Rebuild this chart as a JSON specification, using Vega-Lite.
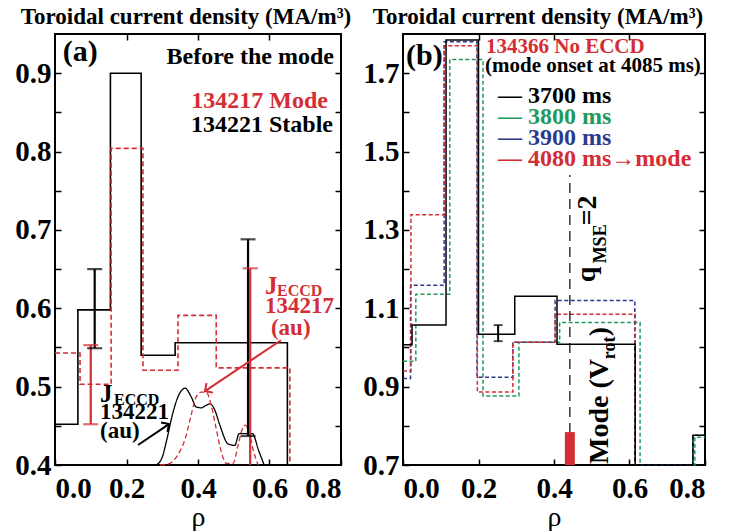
{
  "$schema": "https://vega.github.io/schema/vega-lite/v6.json",
  "background": "white",
  "padding": {"left": 13, "top": 5, "right": 5, "bottom": 5},
  "config": {
    "font": "'Liberation Serif', 'Times New Roman', 'DejaVu Serif', serif",
    "view": {"stroke": "black", "strokeWidth": 2},
    "text": {"font": "'Liberation Serif', 'Times New Roman', 'DejaVu Serif', serif"},
    "title": {"font": "'Liberation Serif', 'Times New Roman', 'DejaVu Serif', serif"},
    "axis": {
      "domain": false, "grid": false,
      "labelFont": "'Liberation Serif', 'Times New Roman', 'DejaVu Serif', serif", "labelFontWeight": "bold", "labelFontSize": 29, "labelColor": "black",
      "labelOverlap": false,
      "tickColor": "black", "tickSize": -6, "tickWidth": 1.5,
      "titleFont": "'Liberation Serif', 'Times New Roman', 'DejaVu Serif', serif", "titleFontWeight": "normal", "titleFontSize": 28, "titleColor": "black"
    }
  },
  "spacing": 62,
  "bounds": "flush",
  "resolve": {"scale": {"color": "independent", "strokeDash": "independent"}},
  "hconcat": [
    {
      "width": 286, "height": 431,
      "title": {"text": "Toroidal current density (MA/m³)", "fontSize": 23, "fontWeight": "bold", "color": "black", "dx": -12, "offset": 4},
      "encoding": {
        "x": {"field": "rho", "type": "quantitative", "scale": {"domain": [0, 0.8], "nice": false, "zero": false}, "axis": null},
        "y": {"field": "v", "type": "quantitative", "scale": {"domain": [0.4, 0.95], "nice": false, "zero": false}, "axis": null}
      },
      "resolve": {"axis": {"x": "independent", "y": "independent"}},
      "layer": [
        {
          "data": {"values": [
            {"s": "134221", "rho": 0, "v": 0.452}, {"s": "134221", "rho": 0.064, "v": 0.598}, {"s": "134221", "rho": 0.155, "v": 0.9},
            {"s": "134221", "rho": 0.241, "v": 0.54}, {"s": "134221", "rho": 0.336, "v": 0.556}, {"s": "134221", "rho": 0.65, "v": 0.4},
            {"s": "134217", "rho": 0, "v": 0.543}, {"s": "134217", "rho": 0.07, "v": 0.503}, {"s": "134217", "rho": 0.157, "v": 0.804},
            {"s": "134217", "rho": 0.246, "v": 0.521}, {"s": "134217", "rho": 0.344, "v": 0.591}, {"s": "134217", "rho": 0.451, "v": 0.524},
            {"s": "134217", "rho": 0.657, "v": 0.4}
          ]},
          "mark": {"type": "line", "interpolate": "step-after", "strokeWidth": 1.6},
          "encoding": {
            "x": {"field": "rho", "type": "quantitative", "scale": {"domain": [0, 0.8], "nice": false, "zero": false},
              "axis": {"orient": "bottom", "values": [0, 0.2, 0.4, 0.6, 0.8], "format": ".1f", "title": "ρ", "labelPadding": 15, "titlePadding": 0}},
            "y": {"field": "v", "type": "quantitative", "scale": {"domain": [0.4, 0.95], "nice": false, "zero": false},
              "axis": {"orient": "left", "values": [0.4, 0.45, 0.5, 0.55, 0.6, 0.65, 0.7, 0.75, 0.8, 0.85, 0.9], "labelExpr": "round(datum.value*100) % 10 == 0 ? format(datum.value, '.1f') : ''", "title": null, "labelPadding": 10}},
            "color": {"field": "s", "type": "nominal", "scale": {"domain": ["134221", "134217"], "range": ["black", "#d42d35"]}, "legend": null},
            "strokeDash": {"field": "s", "type": "nominal", "scale": {"domain": ["134221", "134217"], "range": [[1, 0], [5, 3]]}, "legend": null}
          }
        },
        {
          "data": {"values": [
            {"s": "134221", "rho": 0.283, "v": 0.4}, {"s": "134221", "rho": 0.3, "v": 0.41}, {"s": "134221", "rho": 0.311, "v": 0.429},
            {"s": "134221", "rho": 0.33, "v": 0.467}, {"s": "134221", "rho": 0.344, "v": 0.487}, {"s": "134221", "rho": 0.364, "v": 0.498},
            {"s": "134221", "rho": 0.381, "v": 0.487}, {"s": "134221", "rho": 0.395, "v": 0.474}, {"s": "134221", "rho": 0.41, "v": 0.473},
            {"s": "134221", "rho": 0.422, "v": 0.476}, {"s": "134221", "rho": 0.434, "v": 0.478}, {"s": "134221", "rho": 0.447, "v": 0.47},
            {"s": "134221", "rho": 0.461, "v": 0.451}, {"s": "134221", "rho": 0.484, "v": 0.427}, {"s": "134221", "rho": 0.503, "v": 0.425},
            {"s": "134221", "rho": 0.515, "v": 0.44}, {"s": "134221", "rho": 0.552, "v": 0.44}, {"s": "134221", "rho": 0.57, "v": 0.418},
            {"s": "134221", "rho": 0.585, "v": 0.4},
            {"s": "134217", "rho": 0.294, "v": 0.4}, {"s": "134217", "rho": 0.315, "v": 0.401}, {"s": "134217", "rho": 0.33, "v": 0.405},
            {"s": "134217", "rho": 0.35, "v": 0.418}, {"s": "134217", "rho": 0.364, "v": 0.433}, {"s": "134217", "rho": 0.381, "v": 0.464},
            {"s": "134217", "rho": 0.395, "v": 0.487}, {"s": "134217", "rho": 0.409, "v": 0.493}, {"s": "134217", "rho": 0.423, "v": 0.493},
            {"s": "134217", "rho": 0.437, "v": 0.476}, {"s": "134217", "rho": 0.451, "v": 0.446}, {"s": "134217", "rho": 0.465, "v": 0.417},
            {"s": "134217", "rho": 0.479, "v": 0.402}, {"s": "134217", "rho": 0.498, "v": 0.402}, {"s": "134217", "rho": 0.512, "v": 0.425},
            {"s": "134217", "rho": 0.524, "v": 0.446}, {"s": "134217", "rho": 0.533, "v": 0.451}, {"s": "134217", "rho": 0.544, "v": 0.44},
            {"s": "134217", "rho": 0.554, "v": 0.42}, {"s": "134217", "rho": 0.568, "v": 0.4}
          ]},
          "mark": {"type": "line", "interpolate": "monotone", "strokeWidth": 1.3},
          "encoding": {
            "x": {"field": "rho", "type": "quantitative", "scale": {"domain": [0, 0.8], "nice": false, "zero": false},
              "axis": {"orient": "top", "values": [0.2, 0.4, 0.6], "labels": false, "title": null}},
            "y": {"field": "v", "type": "quantitative", "scale": {"domain": [0.4, 0.95], "nice": false, "zero": false},
              "axis": {"orient": "right", "values": [0.45, 0.5, 0.55, 0.6, 0.65, 0.7, 0.75, 0.8, 0.85, 0.9], "labels": false, "title": null}},
            "color": {"field": "s", "type": "nominal", "scale": {"domain": ["134221", "134217"], "range": ["black", "#d42d35"]}, "legend": null},
            "strokeDash": {"field": "s", "type": "nominal", "scale": {"domain": ["134221", "134217"], "range": [[1, 0], [4, 3]]}, "legend": null}
          }
        },
        {
          "data": {"values": [
            {"s": "134221", "rho": 0.111, "lo": 0.549, "hi": 0.65},
            {"s": "134217", "rho": 0.1, "lo": 0.452, "hi": 0.553},
            {"s": "134221", "rho": 0.54, "lo": 0.437, "hi": 0.688},
            {"s": "134217", "rho": 0.546, "lo": 0.4, "hi": 0.651}
          ]},
          "mark": {"type": "rule", "strokeWidth": 2.2},
          "encoding": {
            "y": {"field": "lo", "type": "quantitative", "scale": {"domain": [0.4, 0.95], "nice": false, "zero": false}, "axis": null},
            "y2": {"field": "hi"},
            "color": {"field": "s", "type": "nominal", "scale": {"domain": ["134221", "134217"], "range": ["black", "#d42d35"]}, "legend": null}
          }
        },
        {
          "data": {"values": [
            {"s": "134221", "rho": 0.111, "v": 0.549}, {"s": "134221", "rho": 0.111, "v": 0.65},
            {"s": "134217", "rho": 0.1, "v": 0.452}, {"s": "134217", "rho": 0.1, "v": 0.553},
            {"s": "134221", "rho": 0.54, "v": 0.437}, {"s": "134221", "rho": 0.54, "v": 0.688},
            {"s": "134217", "rho": 0.546, "v": 0.651}
          ]},
          "mark": {"type": "tick", "orient": "horizontal", "size": 15, "thickness": 2.2},
          "encoding": {
            "color": {"field": "s", "type": "nominal", "scale": {"domain": ["134221", "134217"], "range": ["black", "#d42d35"]}, "legend": null}
          }
        },
        {
          "data": {"values": [
            {"s": "134217", "rho": 0.6322, "v": 0.5592, "rho2": 0.4196, "v2": 0.4943},
            {"s": "134221", "rho": 0.2322, "v": 0.4255, "rho2": 0.3189, "v2": 0.4522}
          ]},
          "mark": {"type": "rule", "strokeWidth": 2},
          "encoding": {
            "x2": {"field": "rho2"},
            "y2": {"field": "v2"},
            "color": {"field": "s", "type": "nominal", "scale": {"domain": ["134221", "134217"], "range": ["black", "#d42d35"]}, "legend": null}
          }
        },
        {
          "data": {"values": [{"s": "134217", "rho": 0.4196, "v": 0.4943}]},
          "mark": {"type": "point", "shape": "M-1,1L0,0L1,1", "angle": 235.8, "size": 130, "filled": false, "strokeWidth": 2, "opacity": 1},
          "encoding": {
            "color": {"field": "s", "type": "nominal", "scale": {"domain": ["134221", "134217"], "range": ["black", "#d42d35"]}, "legend": null}
          }
        },
        {
          "data": {"values": [{"s": "134221", "rho": 0.3189, "v": 0.4522}]},
          "mark": {"type": "point", "shape": "M-1,1L0,0L1,1", "angle": 55.9, "size": 130, "filled": false, "strokeWidth": 2, "opacity": 1},
          "encoding": {
            "color": {"field": "s", "type": "nominal", "scale": {"domain": ["134221", "134217"], "range": ["black", "#d42d35"]}, "legend": null}
          }
        },
        {
          "data": {"values": [{"t": "(a)", "rho": 0.022, "v": 0.916}]},
          "mark": {"type": "text", "align": "left", "baseline": "alphabetic", "fontSize": 30, "fontWeight": "bold", "color": "black"},
          "encoding": {"text": {"field": "t"}}
        },
        {
          "data": {"values": [{"t": "Before the mode", "rho": 0.7804, "v": 0.912}]},
          "mark": {"type": "text", "align": "right", "baseline": "alphabetic", "fontSize": 24, "fontWeight": "bold", "color": "black"},
          "encoding": {"text": {"field": "t"}}
        },
        {
          "data": {"values": [
            {"t": "134217 Mode", "s": "134217", "rho": 0.7636, "v": 0.856},
            {"t": "134221 Stable", "s": "134221", "rho": 0.7776, "v": 0.8255}
          ]},
          "mark": {"type": "text", "align": "right", "baseline": "alphabetic", "fontSize": 24, "fontWeight": "bold"},
          "encoding": {
            "text": {"field": "t"},
            "color": {"field": "s", "type": "nominal", "scale": {"domain": ["134221", "134217"], "range": ["black", "#d42d35"]}, "legend": null}
          }
        },
        {
          "data": {"values": [
            {"t": "J", "s": "134221", "rho": 0.126, "v": 0.48},
            {"t": "J", "s": "134217", "rho": 0.5874, "v": 0.6178}
          ]},
          "mark": {"type": "text", "align": "left", "baseline": "alphabetic", "fontSize": 25, "fontWeight": "bold"},
          "encoding": {
            "text": {"field": "t"},
            "color": {"field": "s", "type": "nominal", "scale": {"domain": ["134221", "134217"], "range": ["black", "#d42d35"]}, "legend": null}
          }
        },
        {
          "data": {"values": [
            {"t": "ECCD", "s": "134221", "rho": 0.165, "v": 0.477},
            {"t": "ECCD", "s": "134217", "rho": 0.621, "v": 0.6153}
          ]},
          "mark": {"type": "text", "align": "left", "baseline": "alphabetic", "fontSize": 16, "fontWeight": "bold"},
          "encoding": {
            "text": {"field": "t"},
            "color": {"field": "s", "type": "nominal", "scale": {"domain": ["134221", "134217"], "range": ["black", "#d42d35"]}, "legend": null}
          }
        },
        {
          "data": {"values": [
            {"t": "134221", "s": "134221", "rho": 0.126, "v": 0.4586},
            {"t": "(au)", "s": "134221", "rho": 0.126, "v": 0.4344},
            {"t": "134217", "s": "134217", "rho": 0.5874, "v": 0.5936},
            {"t": "(au)", "s": "134217", "rho": 0.604, "v": 0.5656}
          ]},
          "mark": {"type": "text", "align": "left", "baseline": "alphabetic", "fontSize": 23, "fontWeight": "bold"},
          "encoding": {
            "text": {"field": "t"},
            "color": {"field": "s", "type": "nominal", "scale": {"domain": ["134221", "134217"], "range": ["black", "#d42d35"]}, "legend": null}
          }
        }
      ]
    },
    {
      "width": 302, "height": 431,
      "title": {"text": "Toroidal current density (MA/m³)", "fontSize": 23, "fontWeight": "bold", "color": "black", "dx": -16, "offset": 4},
      "encoding": {
        "x": {"field": "rho", "type": "quantitative", "scale": {"domain": [0, 0.8], "nice": false, "zero": false}, "axis": null},
        "y": {"field": "v", "type": "quantitative", "scale": {"domain": [0.7, 1.8], "nice": false, "zero": false}, "axis": null}
      },
      "resolve": {"axis": {"x": "independent", "y": "independent"}},
      "layer": [
        {
          "data": {"values": [
            {"s": "3800", "rho": 0, "v": 0.965}, {"s": "3800", "rho": 0.034, "v": 1.136}, {"s": "3800", "rho": 0.124, "v": 1.735},
            {"s": "3800", "rho": 0.212, "v": 0.876}, {"s": "3800", "rho": 0.307, "v": 1.013}, {"s": "3800", "rho": 0.415, "v": 1.064},
            {"s": "3800", "rho": 0.628, "v": 0.7}, {"s": "3800", "rho": 0.773, "v": 0.771}, {"s": "3800", "rho": 0.8, "v": 0.771},
            {"s": "3900", "rho": 0, "v": 0.921}, {"s": "3900", "rho": 0.02, "v": 1.159}, {"s": "3900", "rho": 0.109, "v": 1.78},
            {"s": "3900", "rho": 0.196, "v": 0.924}, {"s": "3900", "rho": 0.291, "v": 1.013}, {"s": "3900", "rho": 0.403, "v": 1.12},
            {"s": "3900", "rho": 0.614, "v": 0.7}, {"s": "3900", "rho": 0.768, "v": 0.776}, {"s": "3900", "rho": 0.8, "v": 0.776},
            {"s": "4080", "rho": 0, "v": 0.94}, {"s": "4080", "rho": 0.021, "v": 1.339}, {"s": "4080", "rho": 0.109, "v": 1.77},
            {"s": "4080", "rho": 0.197, "v": 0.886}, {"s": "4080", "rho": 0.291, "v": 1.013}, {"s": "4080", "rho": 0.403, "v": 1.085},
            {"s": "4080", "rho": 0.615, "v": 0.7},
            {"s": "3700", "rho": 0, "v": 1.007}, {"s": "3700", "rho": 0.024, "v": 1.057}, {"s": "3700", "rho": 0.114, "v": 1.785},
            {"s": "3700", "rho": 0.2, "v": 1.034}, {"s": "3700", "rho": 0.296, "v": 1.131}, {"s": "3700", "rho": 0.408, "v": 1.008},
            {"s": "3700", "rho": 0.615, "v": 0.7}, {"s": "3700", "rho": 0.768, "v": 0.776}, {"s": "3700", "rho": 0.8, "v": 0.776}
          ]},
          "mark": {"type": "line", "interpolate": "step-after", "strokeWidth": 1.5},
          "encoding": {
            "x": {"field": "rho", "type": "quantitative", "scale": {"domain": [0, 0.8], "nice": false, "zero": false},
              "axis": {"orient": "bottom", "values": [0, 0.2, 0.4, 0.6, 0.8], "format": ".1f", "title": "ρ", "labelPadding": 15, "titlePadding": 0}},
            "y": {"field": "v", "type": "quantitative", "scale": {"domain": [0.7, 1.8], "nice": false, "zero": false},
              "axis": {"orient": "left", "values": [0.7, 0.8, 0.9, 1.0, 1.1, 1.2, 1.3, 1.4, 1.5, 1.6, 1.7], "labelExpr": "round(datum.value*10) % 2 == 1 ? format(datum.value, '.1f') : ''", "title": null, "labelPadding": 10}},
            "color": {"field": "s", "type": "nominal", "scale": {"domain": ["3700", "3800", "3900", "4080"], "range": ["black", "#1f9a5c", "#2e3a8f", "#d42d35"]}, "legend": null},
            "strokeDash": {"field": "s", "type": "nominal", "scale": {"domain": ["3700", "3800", "3900", "4080"], "range": [[1, 0], [4, 2.5], [4, 2.5], [4, 2.5]]}, "legend": null}
          }
        },
        {
          "data": {"values": [{"rho": 0.442, "lo": 0.7, "hi": 1.44}]},
          "mark": {"type": "rule", "strokeWidth": 1.2, "strokeDash": [10, 6], "color": "black"},
          "encoding": {
            "x": {"field": "rho", "type": "quantitative", "scale": {"domain": [0, 0.8], "nice": false, "zero": false},
              "axis": {"orient": "top", "values": [0.2, 0.4, 0.6], "labels": false, "title": null}},
            "y": {"field": "lo", "type": "quantitative", "scale": {"domain": [0.7, 1.8], "nice": false, "zero": false},
              "axis": {"orient": "right", "values": [0.8, 0.9, 1.0, 1.1, 1.2, 1.3, 1.4, 1.5, 1.6, 1.7], "labels": false, "title": null}},
            "y2": {"field": "hi"}
          }
        },
        {
          "data": {"values": [{"rho": 0.442, "lo": 0.7, "hi": 0.784}]},
          "mark": {"type": "rule", "strokeWidth": 10, "color": "#d42d35"},
          "encoding": {
            "y": {"field": "lo", "type": "quantitative", "scale": {"domain": [0.7, 1.8], "nice": false, "zero": false}, "axis": null},
            "y2": {"field": "hi"}
          }
        },
        {
          "data": {"values": [{"rho": 0.252, "lo": 1.016, "hi": 1.057}]},
          "mark": {"type": "rule", "strokeWidth": 2, "color": "black"},
          "encoding": {
            "y": {"field": "lo", "type": "quantitative", "scale": {"domain": [0.7, 1.8], "nice": false, "zero": false}, "axis": null},
            "y2": {"field": "hi"}
          }
        },
        {
          "data": {"values": [{"rho": 0.252, "v": 1.016}, {"rho": 0.252, "v": 1.057}]},
          "mark": {"type": "tick", "orient": "horizontal", "size": 9, "thickness": 2, "color": "black"}
        },
        {
          "data": {"values": [{"t": "(b)", "rho": 0.008, "v": 1.7217}]},
          "mark": {"type": "text", "align": "left", "baseline": "alphabetic", "fontSize": 30, "fontWeight": "bold", "color": "black"},
          "encoding": {"text": {"field": "t"}}
        },
        {
          "data": {"values": [{"t": "134366 No ECCD", "rho": 0.2199, "v": 1.7522}]},
          "mark": {"type": "text", "align": "left", "baseline": "alphabetic", "fontSize": 21, "fontWeight": "bold", "color": "#d42d35"},
          "encoding": {"text": {"field": "t"}}
        },
        {
          "data": {"values": [{"t": "(mode onset at 4085 ms)", "rho": 0.2172, "v": 1.7038}]},
          "mark": {"type": "text", "align": "left", "baseline": "alphabetic", "fontSize": 21, "fontWeight": "bold", "color": "black"},
          "encoding": {"text": {"field": "t"}}
        },
        {
          "data": {"values": [
            {"t": "— 3700 ms", "s": "3700", "rho": 0.2517, "v": 1.6248},
            {"t": "— 3800 ms", "s": "3800", "rho": 0.2517, "v": 1.5713},
            {"t": "— 3900 ms", "s": "3900", "rho": 0.2517, "v": 1.5178},
            {"t": "— 4080 ms→mode", "s": "4080", "rho": 0.2517, "v": 1.4643}
          ]},
          "mark": {"type": "text", "align": "left", "baseline": "alphabetic", "fontSize": 24, "fontWeight": "bold"},
          "encoding": {
            "text": {"field": "t"},
            "color": {"field": "s", "type": "nominal", "scale": {"domain": ["3700", "3800", "3900", "4080"], "range": ["black", "#1f9a5c", "#2e3a8f", "#d42d35"]}, "legend": null}
          }
        },
        {
          "data": {"values": [
            {"t": "q", "rho": 0.5086, "v": 1.1662},
            {"t": "=2", "rho": 0.5113, "v": 1.3115},
            {"t": "Mode (V", "rho": 0.543, "v": 0.7025},
            {"t": ")", "rho": 0.543, "v": 1.0287}
          ]},
          "mark": {"type": "text", "align": "left", "baseline": "alphabetic", "angle": 270, "fontSize": 28, "fontWeight": "bold", "color": "black"},
          "encoding": {"text": {"field": "t"}}
        },
        {
          "data": {"values": [
            {"t": "MSE", "rho": 0.5377, "v": 1.2146},
            {"t": "rot", "rho": 0.5616, "v": 0.97}
          ]},
          "mark": {"type": "text", "align": "left", "baseline": "alphabetic", "angle": 270, "fontSize": 18, "fontWeight": "bold", "color": "black"},
          "encoding": {"text": {"field": "t"}}
        }
      ]
    }
  ]
}
